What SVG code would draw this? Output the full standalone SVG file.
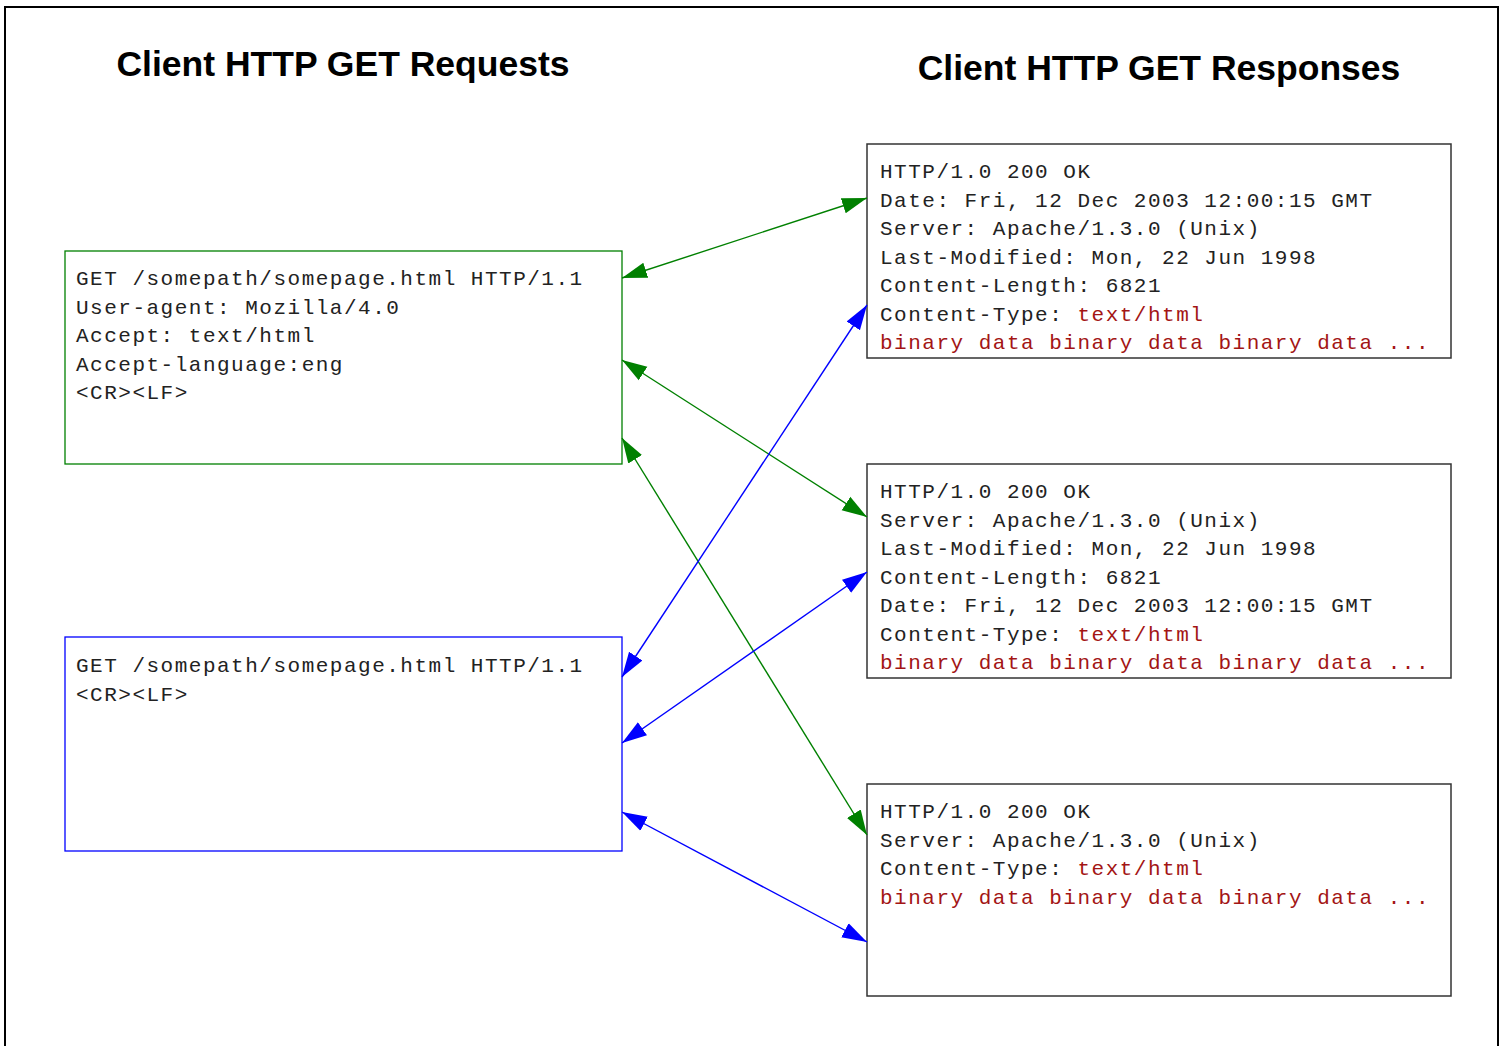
<svg xmlns="http://www.w3.org/2000/svg" width="1503" height="1046" viewBox="0 0 1503 1046">
<style>
.title{font-family:"Liberation Sans",Arial,sans-serif;font-weight:bold;font-size:35.5px;fill:#000}
.mono{font-family:"Liberation Mono","Courier New",monospace;font-size:21px;letter-spacing:1.5px;fill:#222}
.red{fill:#a31515}
.resp{fill:#fff;stroke:#333;stroke-width:1.5}
.g{stroke:#008000;stroke-width:1.4;fill:none}
.b{stroke:#0000ff;stroke-width:1.4;fill:none}
</style>
<defs>
<marker id="ag" markerUnits="userSpaceOnUse" markerWidth="26" markerHeight="18" refX="25" refY="8" orient="auto-start-reverse" viewBox="0 0 26 16"><path d="M0,0 L25,8 L0,16 Z" fill="#008000"/></marker>
<marker id="ab" markerUnits="userSpaceOnUse" markerWidth="26" markerHeight="18" refX="25" refY="8" orient="auto-start-reverse" viewBox="0 0 26 16"><path d="M0,0 L25,8 L0,16 Z" fill="#0000ff"/></marker>
</defs>
<rect x="5" y="7" width="1493" height="1060" fill="#fff" stroke="#000" stroke-width="2"/>
<text class="title" x="343" y="76" text-anchor="middle">Client HTTP GET Requests</text>
<text class="title" x="1159" y="80" text-anchor="middle">Client HTTP GET Responses</text>
<g id="req1">
<rect x="65" y="251" width="557" height="213" fill="#fff" stroke="#008000" stroke-width="1.3"/>
<text class="mono" x="76"><tspan x="76" y="285">GET /somepath/somepage.html HTTP/1.1</tspan><tspan x="76" y="313.5">User-agent: Mozilla/4.0</tspan><tspan x="76" y="342">Accept: text/html</tspan><tspan x="76" y="370.5">Accept-language:eng</tspan><tspan x="76" y="399">&lt;CR&gt;&lt;LF&gt;</tspan></text>
</g>
<g id="req2">
<rect x="65" y="637" width="557" height="214" fill="#fff" stroke="#0000ff" stroke-width="1.3"/>
<text class="mono" x="76"><tspan x="76" y="672">GET /somepath/somepage.html HTTP/1.1</tspan><tspan x="76" y="700.5">&lt;CR&gt;&lt;LF&gt;</tspan></text>
</g>
<g id="resp1">
<rect class="resp" x="867" y="144" width="584" height="214"/>
<text class="mono"><tspan x="880" y="178">HTTP/1.0 200 OK</tspan><tspan x="880" y="206.5">Date: Fri, 12 Dec 2003 12:00:15 GMT</tspan><tspan x="880" y="235">Server: Apache/1.3.0 (Unix)</tspan><tspan x="880" y="263.5">Last-Modified: Mon, 22 Jun 1998</tspan><tspan x="880" y="292">Content-Length: 6821</tspan><tspan x="880" y="320.5">Content-Type: <tspan class="red">text/html</tspan></tspan><tspan x="880" y="349" class="red">binary data binary data binary data ...</tspan></text>
</g>
<g id="resp2">
<rect class="resp" x="867" y="464" width="584" height="214"/>
<text class="mono"><tspan x="880" y="498">HTTP/1.0 200 OK</tspan><tspan x="880" y="526.5">Server: Apache/1.3.0 (Unix)</tspan><tspan x="880" y="555">Last-Modified: Mon, 22 Jun 1998</tspan><tspan x="880" y="583.5">Content-Length: 6821</tspan><tspan x="880" y="612">Date: Fri, 12 Dec 2003 12:00:15 GMT</tspan><tspan x="880" y="640.5">Content-Type: <tspan class="red">text/html</tspan></tspan><tspan x="880" y="669" class="red">binary data binary data binary data ...</tspan></text>
</g>
<g id="resp3">
<rect class="resp" x="867" y="784" width="584" height="212"/>
<text class="mono"><tspan x="880" y="818">HTTP/1.0 200 OK</tspan><tspan x="880" y="846.5">Server: Apache/1.3.0 (Unix)</tspan><tspan x="880" y="875">Content-Type: <tspan class="red">text/html</tspan></tspan><tspan x="880" y="903.5" class="red">binary data binary data binary data ...</tspan></text>
</g>
<g id="connectors">
<line class="g" x1="622" y1="278" x2="867" y2="198" marker-start="url(#ag)" marker-end="url(#ag)"/>
<line class="g" x1="622" y1="360" x2="867" y2="517" marker-start="url(#ag)" marker-end="url(#ag)"/>
<line class="g" x1="622" y1="438" x2="867" y2="835" marker-start="url(#ag)" marker-end="url(#ag)"/>
<line class="b" x1="622" y1="677" x2="867" y2="305" marker-start="url(#ab)" marker-end="url(#ab)"/>
<line class="b" x1="622" y1="743" x2="867" y2="572" marker-start="url(#ab)" marker-end="url(#ab)"/>
<line class="b" x1="622" y1="812" x2="867" y2="942" marker-start="url(#ab)" marker-end="url(#ab)"/>
</g>
</svg>
